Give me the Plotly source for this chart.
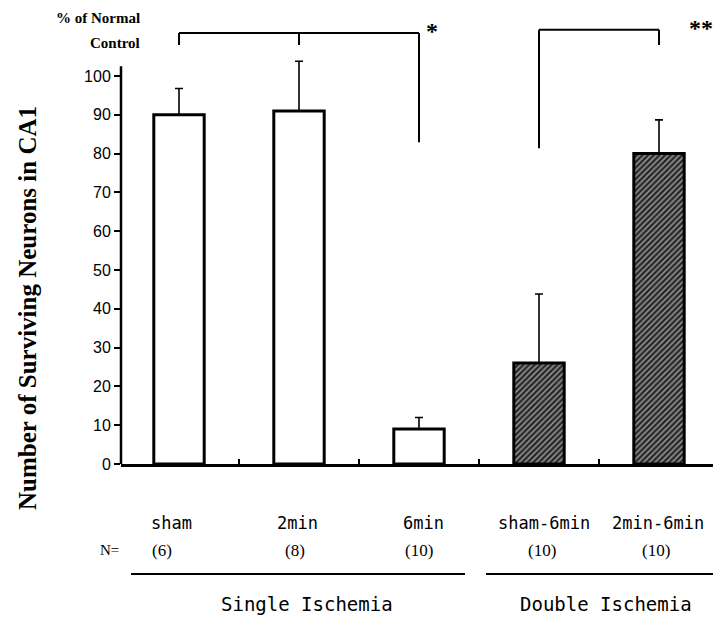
import plotly.graph_objects as go

# ---- data ----
groups = ["sham", "2min", "6min", "sham-6min", "2min-6min"]
means = [90, 91, 9, 26, 80]
errors = [6.8, 12.8, 3, 17.8, 8.7]
n_labels = ["(6)", "(8)", "(10)", "(10)", "(10)"]
y_ticks = [0, 10, 20, 30, 40, 50, 60, 70, 80, 90, 100]

x = list(range(len(groups)))
fill_colors = ["white", "white", "white", "#262626", "#262626"]
patterns = ["", "", "", "/", "/"]

W, H = 721, 617
L, R, T, B = 113, 0, 4, 161
pw = W - L - R
ph = H - T - B
X0PX, XSTEP = 171, 120.0      # pixel of first bar centre, pixels per category
YMAX = 116.5

def xd(xpix):
    return (xpix - X0PX) / XSTEP

def px(xpix):
    return (xpix - L) / pw

def ypix(ypx):
    return (H - ypx - B) / ph

fig = go.Figure()
fig.add_trace(go.Bar(
    x=x, y=means, width=0.42,
    marker=dict(color=fill_colors,
                line=dict(color="black", width=3),
                pattern=dict(shape=patterns, fgcolor="#e8e8e8", size=4, solidity=0.4)),
    error_y=dict(type="data", array=errors, arrayminus=[0] * len(errors),
                 symmetric=False, color="black", thickness=1.6, width=4),
    showlegend=False,
))

# y axis line (only up to ~102)
fig.add_shape(type="line", xref="paper", yref="y", x0=0, x1=0, y0=0, y1=102.5,
              line=dict(color="black", width=2.5))

# significance brackets
def seg(x0, y0, x1, y1):
    fig.add_shape(type="line", xref="x", yref="y", x0=x0, y0=y0, x1=x1, y1=y1,
                  line=dict(color="black", width=2))

seg(0, 111.1, 2, 111.1)
seg(0, 111.1, 0, 108)
seg(1, 111.1, 1, 108)
seg(2, 111.1, 2, 82.9)
seg(3, 111.9, 4, 111.9)
seg(3, 111.9, 3, 81.4)
seg(4, 111.9, 4, 108)

ann = []
ann.append(dict(x=2.04, y=111.6, xref="x", yref="y", text="<b>*</b>", showarrow=False,
                xanchor="left", yanchor="middle",
                font=dict(family="Liberation Serif", size=24, color="black")))
ann.append(dict(x=4.23, y=112.4, xref="x", yref="y", text="<b>**</b>", showarrow=False,
                xanchor="left", yanchor="middle",
                font=dict(family="Liberation Serif", size=24, color="black")))

# top-left unit text
ann.append(dict(x=px(134), y=ypix(10), xref="paper", yref="paper",
                text="<b>% of Normal</b>", showarrow=False, xanchor="right", yanchor="middle",
                font=dict(family="Liberation Serif", size=15, color="black")))
ann.append(dict(x=px(134), y=ypix(35), xref="paper", yref="paper",
                text="<b>Control</b>", showarrow=False, xanchor="right", yanchor="middle",
                font=dict(family="Liberation Serif", size=15, color="black")))

# y axis title
ann.append(dict(x=px(19), y=ypix(300), xref="paper", yref="paper",
                text="<b>Number of Surviving Neurons in CA1</b>", textangle=-90,
                showarrow=False, xanchor="center", yanchor="middle",
                font=dict(family="Liberation Serif", size=25, color="black")))

label_font = dict(family="DejaVu Sans Mono", size=17, color="black")
label_px = [163, 289, 415, 536, 650]
n_px = [154, 287, 411, 534, 648]
for i, g in enumerate(groups):
    ann.append(dict(x=xd(label_px[i]), y=ypix(515), xref="x", yref="paper", text=g,
                    showarrow=False, xanchor="center", yanchor="middle", font=label_font))
    ann.append(dict(x=xd(n_px[i]), y=ypix(542), xref="x", yref="paper", text=n_labels[i],
                    showarrow=False, xanchor="center", yanchor="middle",
                    font=dict(family="Liberation Serif", size=17, color="black")))
ann.append(dict(x=px(101), y=ypix(542), xref="paper", yref="paper", text="N=",
                showarrow=False, xanchor="center", yanchor="middle",
                font=dict(family="Liberation Serif", size=15, color="black")))

# group lines
fig.add_shape(type="line", xref="paper", yref="paper", x0=px(123), x1=px(457),
              y0=ypix(566), y1=ypix(566), line=dict(color="black", width=2))
fig.add_shape(type="line", xref="paper", yref="paper", x0=px(478), x1=px(712),
              y0=ypix(566), y1=ypix(566), line=dict(color="black", width=2))
group_font = dict(family="DejaVu Sans Mono", size=19, color="black")
ann.append(dict(x=px(299), y=ypix(596), xref="paper", yref="paper", text="Single Ischemia",
                showarrow=False, xanchor="center", yanchor="middle", font=group_font))
ann.append(dict(x=px(598), y=ypix(596), xref="paper", yref="paper", text="Double Ischemia",
                showarrow=False, xanchor="center", yanchor="middle", font=group_font))

fig.update_layout(
    width=W, height=H,
    margin=dict(l=L, r=R, t=T, b=B, pad=0),
    paper_bgcolor="white", plot_bgcolor="white",
    annotations=ann,
    xaxis=dict(range=[xd(L), xd(W - R)], tickvals=[0.5, 1.5, 2.5, 3.5], ticks="inside",
               ticklen=5, tickwidth=1.5, tickcolor="black", showticklabels=False,
               showline=True, linecolor="black", linewidth=2.5, showgrid=False,
               zeroline=False),
    yaxis=dict(range=[0, YMAX], tickvals=y_ticks, ticks="outside", ticklen=6,
               tickwidth=1.5, tickcolor="black", showline=False, showgrid=False,
               zeroline=False, tickfont=dict(family="Liberation Sans", size=16, color="black")),
)

fig.write_html("out.html")
